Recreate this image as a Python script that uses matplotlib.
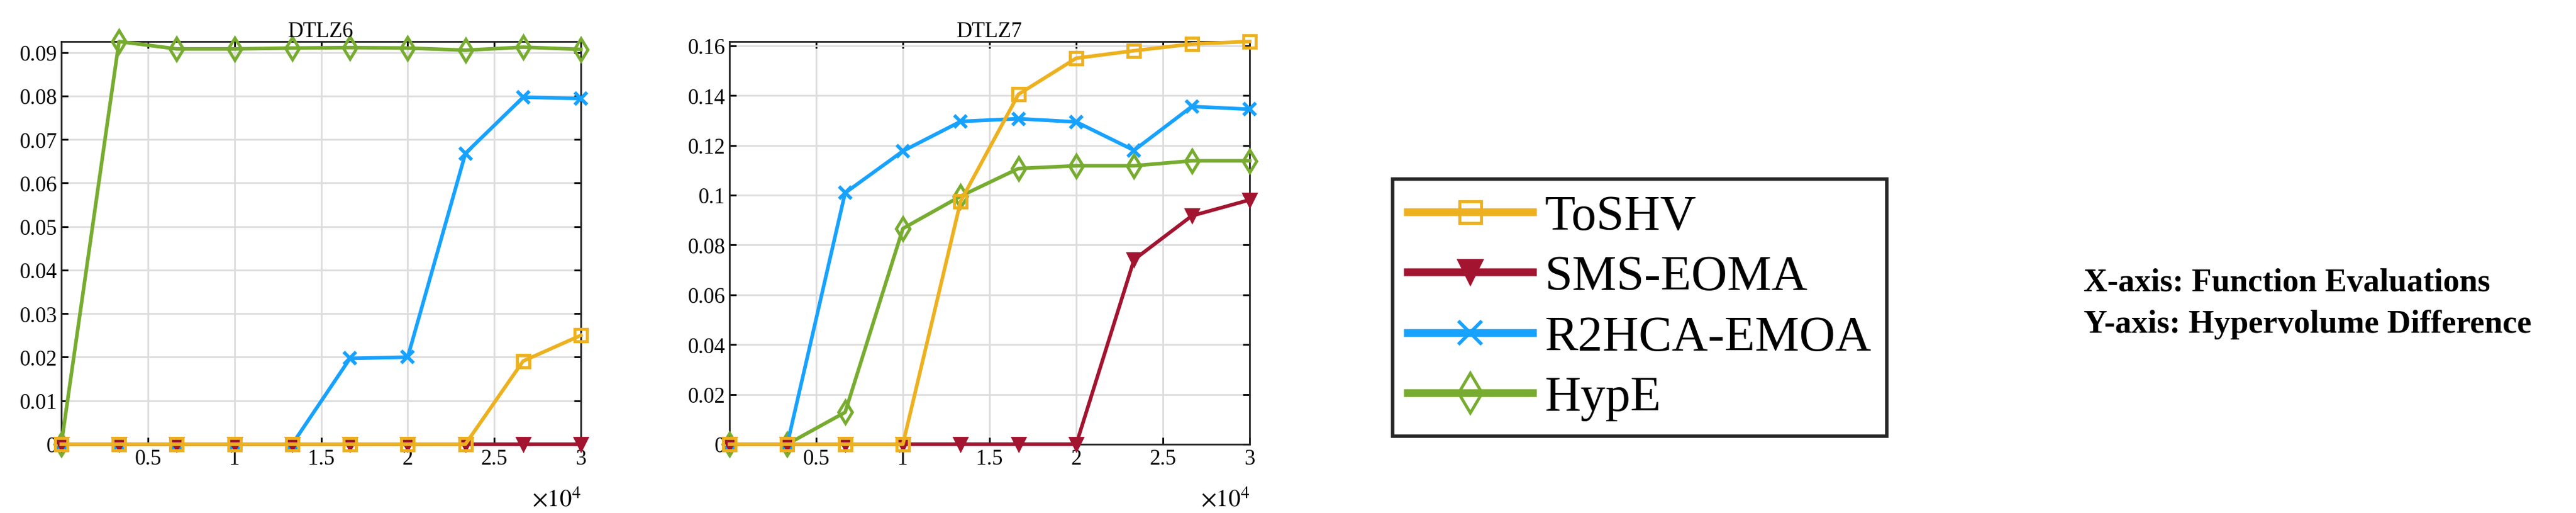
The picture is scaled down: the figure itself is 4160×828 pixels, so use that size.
import numpy as np
import matplotlib
matplotlib.use('Agg')
import matplotlib.pyplot as plt

plt.rcParams['font.family'] = ['Liberation Serif', 'DejaVu Serif']
plt.rcParams['mathtext.fontset'] = 'stix'

evals = [0, 3333, 6667, 10000, 13333, 16667, 20000, 23333, 26667, 30000]
algos = ['ToSHV', 'SMS-EOMA', 'R2HCA-EMOA', 'HypE']

# DTLZ6
d6_toshv = [0, 0, 0, 0, 0, 0, 0, 0, 0.0191, 0.0250]
d6_sms = [0, 0, 0, 0, 0, 0, 0, 0, 0, 0]
d6_r2hca = [0, 0, 0, 0, 0, 0.0197, 0.0200, 0.0668, 0.0797, 0.0794]
d6_hype = [0, 0.0925, 0.0908, 0.0908, 0.0910, 0.0911, 0.0910, 0.0905, 0.0912, 0.0907]

# DTLZ7
d7_toshv = [0, 0, 0, 0, 0.0976, 0.1405, 0.1550, 0.1580, 0.1607, 0.1617]
d7_sms = [0, 0, 0, 0, 0, 0, 0, 0.0741, 0.0917, 0.0981]
d7_r2hca = [0, 0, 0.1009, 0.1177, 0.1296, 0.1307, 0.1294, 0.1180, 0.1356, 0.1345]
d7_hype = [0, 0, 0.0128, 0.0866, 0.0996, 0.1107, 0.1118, 0.1118, 0.1138, 0.1138]

colors = {'ToSHV': '#EDB120', 'SMS-EOMA': '#A2142F', 'R2HCA-EMOA': '#17A2FF', 'HypE': '#77AC30'}
styles = {
    'ToSHV': dict(marker='s', mfc='none', mew=3.5, ms=14),
    'SMS-EOMA': dict(marker='v', mew=2, ms=16),
    'R2HCA-EMOA': dict(marker='x', mew=4, ms=15),
    'HypE': dict(marker='d', mfc='none', mew=3.5, ms=18),
}

fig = plt.figure(figsize=(41.6, 8.29), dpi=100)
ax1 = fig.add_axes([0.0238, 0.134, 0.2017, 0.784])
ax2 = fig.add_axes([0.2832, 0.134, 0.2019, 0.784])

panels = [
    (ax1, 'DTLZ6', {'ToSHV': d6_toshv, 'SMS-EOMA': d6_sms, 'R2HCA-EMOA': d6_r2hca, 'HypE': d6_hype},
     0.0925, np.arange(0, 0.0901, 0.01), ['0'] + ['%.2f' % v for v in np.arange(0.01, 0.0901, 0.01)]),
    (ax2, 'DTLZ7', {'ToSHV': d7_toshv, 'SMS-EOMA': d7_sms, 'R2HCA-EMOA': d7_r2hca, 'HypE': d7_hype},
     0.1617, np.arange(0, 0.1601, 0.02), ['0', '0.02', '0.04', '0.06', '0.08', '0.1', '0.12', '0.14', '0.16']),
]

handles = {}
for ax, title, data, ytop, yt, ytl in panels:
    for name in ['HypE', 'R2HCA-EMOA', 'SMS-EOMA', 'ToSHV']:
        ln, = ax.plot(evals, data[name], color=colors[name], lw=4.2, clip_on=False,
                      zorder=3, **styles[name])
        handles[name] = ln
    ax.set_xlim(0, 30000)
    ax.set_ylim(0, ytop)
    ax.set_xticks([5000, 10000, 15000, 20000, 25000, 30000])
    ax.set_xticklabels(['0.5', '1', '1.5', '2', '2.5', '3'])
    ax.set_yticks(yt)
    ax.set_yticklabels(ytl)
    ax.grid(True, color='#dddddd', lw=2)
    ax.set_axisbelow(True)
    ax.tick_params(direction='in', length=8, width=2, labelsize=25, top=True, right=True, pad=5)
    for s in ax.spines.values():
        s.set_linewidth(2)
        s.set_color('#262626')
    ax.set_title(title, fontsize=25, pad=6)
    ax.text(1.0, -0.11, r'$\times10^4$', transform=ax.transAxes, ha='right', va='top', fontsize=28)

leg = fig.legend([handles[a] for a in algos], algos, loc='center', bbox_to_anchor=(0.6365, 0.40),
                 fontsize=58, handlelength=2.5, markerscale=1.8, labelspacing=0.3,
                 borderpad=0.3, handletextpad=0.25, fancybox=False, framealpha=1)
leg.get_frame().set_edgecolor('#262626')
leg.get_frame().set_linewidth(4)
for ln in leg.get_lines():
    ln.set_linewidth(9)

fig.text(0.809, 0.449, 'X-axis: Function Evaluations', fontsize=38, fontweight='bold', va='center')
fig.text(0.809, 0.368, 'Y-axis: Hypervolume Difference', fontsize=38, fontweight='bold', va='center')

fig.savefig('out.png', dpi=100, facecolor='white')
